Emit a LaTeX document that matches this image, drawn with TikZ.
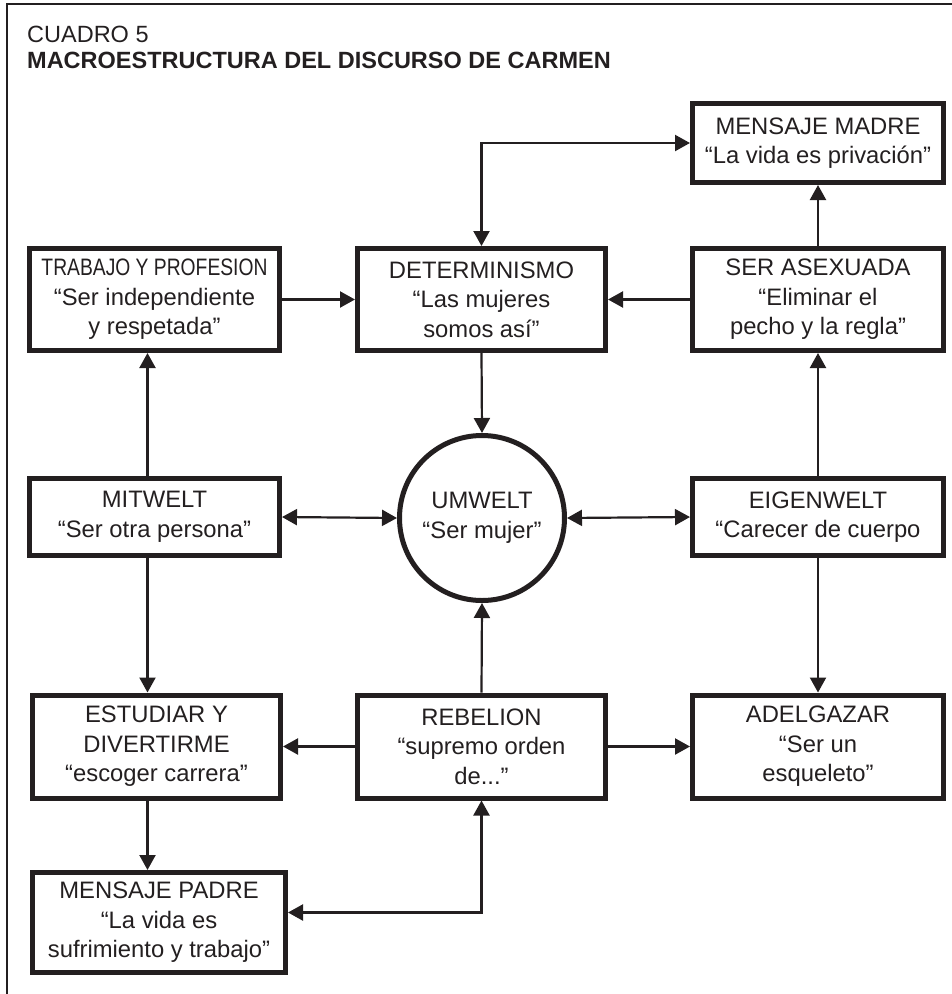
\documentclass[tikz,border=0pt]{standalone}
\usepackage{graphicx}
\usepackage{fontspec}
\setmainfont{Liberation Sans}
\usetikzlibrary{arrows.meta}
\definecolor{ink}{RGB}{35,31,32}
\begin{document}
\begin{tikzpicture}[x=1pt,y=-1pt,
  box/.style={draw=ink, line width=5pt, rectangle, align=center, text=ink,
    font=\fontsize{23.8}{29.5}\selectfont, inner sep=0pt},
  wbox/.style={box, minimum width=251pt},
  ring/.style={draw=ink, line width=5pt, circle, align=center, text=ink,
    font=\fontsize{23.8}{29.5}\selectfont, inner sep=0pt, minimum size=165pt},
  conn/.style={draw=ink, line width=2.2pt, -{Triangle[length=15pt,width=16pt]}},
  biconn/.style={draw=ink, line width=2.2pt,
    {Triangle[length=15pt,width=16pt]}-{Triangle[length=15pt,width=16pt]}},
  title/.style={anchor=base west, text=ink, inner sep=0pt, font=\fontsize{23.5}{26}\selectfont}]
\useasboundingbox (0,0) rectangle (952,994);
\draw[ink, line width=2.5pt] (7,994) -- (7,4) -- (952,4);

\node[title] (t1) at (27,42) {CUADRO 5};
\node[title, font=\fontsize{23.5}{26}\selectfont\bfseries] (t2) at (27,68) {MACROESTRUCTURA DEL DISCURSO DE CARMEN};

\node[wbox, minimum height=79pt] (madre) at (818,143) {MENSAJE MADRE\\“La vida es privación”};
\node[box, minimum width=250pt, minimum height=102pt] (trabajo) at (154.5,299.5) {\scalebox{0.81}[1]{TRABAJO Y PROFESION}\\“Ser independiente\\y respetada”};
\node[box, minimum width=248pt, minimum height=102pt] (determ) at (481.5,299.5) {DETERMINISMO\\“Las mujeres\\somos así”};
\node[wbox, minimum height=102pt] (asexuada) at (818,299.5) {SER ASEXUADA\\“Eliminar el\\pecho y la regla”};

\node[box, minimum width=250pt, minimum height=77pt] (mitwelt) at (154.5,517) {MITWELT\\“Ser otra persona”};
\node[ring] (umwelt) at (482,518) {UMWELT\\“Ser mujer”};
\node[wbox, minimum height=77pt] (eigen) at (818,517) {EIGENWELT\\“Carecer de cuerpo};

\node[box, minimum width=248pt, minimum height=103pt] (estudiar) at (156.5,746.5) {ESTUDIAR Y\\DIVERTIRME\\“escoger carrera”};
\node[box, minimum width=248pt, minimum height=103pt] (rebelion) at (481.5,746.5) {REBELION\\“supremo orden\\de...”};
\node[wbox, minimum height=103pt] (adelgazar) at (818,746.5) {ADELGAZAR\\“Ser un\\esqueleto”};

\node[box, minimum width=253pt, minimum height=100pt] (padre) at (159,922.5) {MENSAJE PADRE\\“La vida es\\sufrimiento y trabajo”};

\draw[conn] (trabajo.east) -- (determ.west);
\draw[conn] (asexuada.west) -- (determ.east);
\draw[conn] (determ.south) -- (umwelt.north);
\draw[biconn] (determ.north) |- (madre.west);
\draw[conn] (asexuada.north) -- (madre.south);
\draw[conn] (eigen.north) -- (asexuada.south);
\draw[conn] (eigen.south) -- (adelgazar.north);
\draw[biconn] (mitwelt.east) -- (umwelt.west);
\draw[biconn] (umwelt.east) -- (eigen.west);
\draw[conn] ([xshift=-7pt]mitwelt.north) -- ([xshift=-7pt]mitwelt.north |- trabajo.south);
\draw[conn] ([xshift=-7pt]mitwelt.south) -- ([xshift=-7pt]mitwelt.south |- estudiar.north);
\draw[conn] ([xshift=-9pt]estudiar.south) -- ([xshift=-9pt]estudiar.south |- padre.north);
\draw[conn] (rebelion.north) -- (umwelt.south);
\draw[conn] (rebelion.west) -- (estudiar.east);
\draw[conn] (rebelion.east) -- (adelgazar.west);
\draw[biconn] (rebelion.south) |- ([yshift=10pt]padre.east);
\end{tikzpicture}
\end{document}
